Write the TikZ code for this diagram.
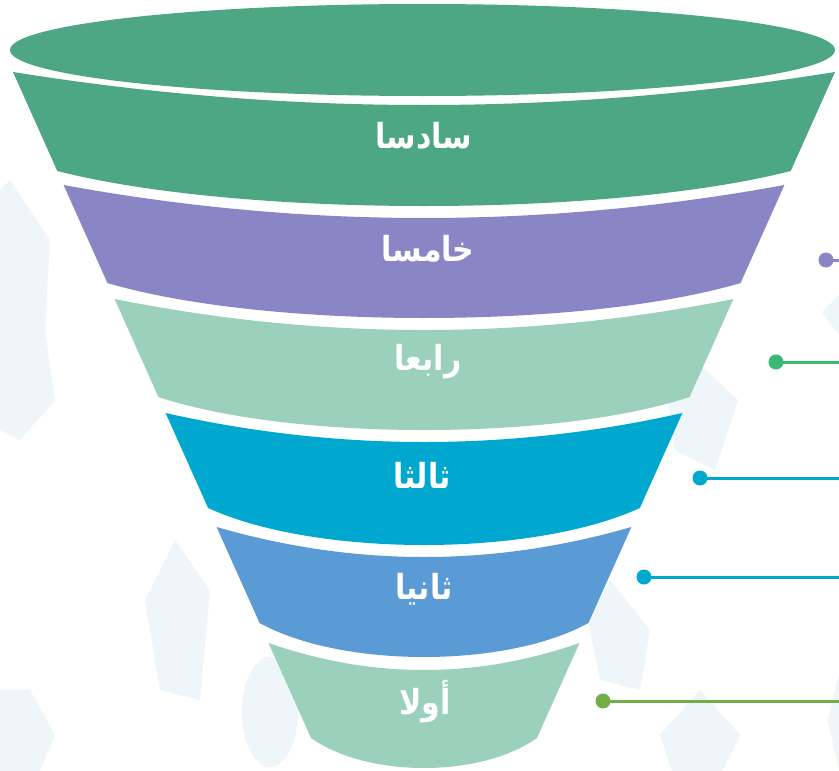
\documentclass[tikz,border=0pt]{standalone}
\usepackage{fontspec}
\newfontfamily\arabicfont[Script=Arabic]{DejaVu Sans}
\TeXXeTstate=1
\definecolor{cgreen}{HTML}{4DA785}
\definecolor{cpurple}{HTML}{8A86C6}
\definecolor{cmint}{HTML}{9BD0BC}
\definecolor{ccyan}{HTML}{00A8D0}
\definecolor{cblue}{HTML}{5B9BD5}
\definecolor{dgreen}{HTML}{3DB874}
\definecolor{dlime}{HTML}{72AE47}
\definecolor{wmark}{HTML}{EEF6FA}
\newcommand{\fband}[5]{%
  \pgfmathsetmacro{\hwt}{411-0.4475*(#2-72)}%
  \pgfmathsetmacro{\hwb}{411-0.4475*(#3-72)}%
  \fill[#1] (424-\hwt,#2) .. controls ({424-\hwt/3},{#2+#4*4/3}) and ({424+\hwt/3},{#2+#4*4/3}) .. (424+\hwt,#2)
     -- (424+\hwb,#3) .. controls ({424+\hwb/2},{#3+#5*4/3}) and ({424-\hwb/2},{#3+#5*4/3}) .. (424-\hwb,#3) -- cycle;%
}
\tikzset{
  lbl/.style={text=white, font=\arabicfont\bfseries\fontsize{30}{36}\selectfont, inner sep=0pt, yscale=1.15, transform shape},
  dot/.style={circle, fill=#1, minimum size=15pt, inner sep=0pt},
  conn/.style={draw=#1, line width=3pt},
  wm/.style={fill=wmark}
}
\begin{document}
\begin{tikzpicture}[x=1pt,y=-1pt]
\useasboundingbox (0,0) rectangle (839,771);
\fill[white] (0,0) rectangle (839,771);
% faint watermark shapes
\fill[wm] (10,180) -- (50,240) -- (45,330) -- (55,400) -- (20,440) -- (0,430) -- (0,190) -- cycle;
\fill[wm] (0,690) -- (30,690) -- (55,735) -- (40,771) -- (0,771) -- cycle;
\fill[wm] (175,540) -- (210,590) -- (200,700) -- (160,690) -- (145,600) -- cycle;
\fill[wm] (270,712) ellipse [x radius=28, y radius=55];
\fill[wm] (700,365) -- (738,400) -- (715,470) -- (675,450) -- (668,400) -- cycle;
\fill[wm] (610,580) -- (650,630) -- (640,690) -- (600,680) -- (588,620) -- cycle;
\fill[wm] (700,690) -- (740,735) -- (722,771) -- (672,771) -- (660,735) -- cycle;
\fill[wm] (839,295) -- (822,312) -- (839,335) -- cycle;
\fill[wm] (839,675) -- (828,720) -- (839,771) -- cycle;
% funnel
\fill[cgreen] (422.5,50) ellipse [x radius=412.5, y radius=46];
\fband{cgreen}{72}{171}{33}{35}
\fband{cpurple}{185}{283}{33}{35}
\fband{cmint}{299}{397}{31}{33}
\fband{ccyan}{413}{508}{29}{37}
\fband{cblue}{527}{623}{30}{34}
\fband{cmint}{643}{738}{27}{30}
% labels
\node[lbl] (t6) at (424,136) {\beginR سادسا\endR};
\node[lbl] (t5) at (428,249) {\beginR خامسا\endR};
\node[lbl] (t4) at (428,362) {\beginR رابعا\endR};
\node[lbl] (t3) at (422,475) {\beginR ثالثا\endR};
\node[lbl] (t2) at (424,589) {\beginR ثانيا\endR};
\node[lbl] (t1) at (425,702) {\beginR أولا\endR};
% connectors
\coordinate (e5) at (839,260);
\coordinate (e4) at (839,362);
\coordinate (e3) at (839,478);
\coordinate (e2) at (839,577);
\coordinate (e1) at (839,701);
\node[dot=cpurple] (d5) at (826,260) {};
\node[dot=dgreen] (d4) at (776,362) {};
\node[dot=ccyan] (d3) at (700,478) {};
\node[dot=ccyan] (d2) at (644,577) {};
\node[dot=dlime] (d1) at (603,701) {};
\draw[conn=cpurple] (d5.center) -- (e5);
\draw[conn=dgreen] (d4.center) -- (e4);
\draw[conn=ccyan] (d3.center) -- (e3);
\draw[conn=ccyan] (d2.center) -- (e2);
\draw[conn=dlime] (d1.center) -- (e1);
\end{tikzpicture}
\end{document}
